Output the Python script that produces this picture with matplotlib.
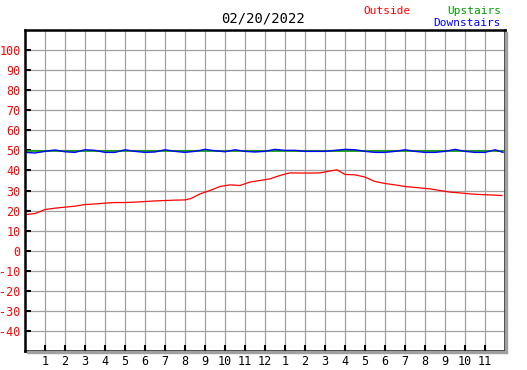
import numpy as np
import matplotlib
matplotlib.use('Agg')
import matplotlib.pyplot as plt
from matplotlib.patches import Rectangle

# hours since midnight
out_hours = [0, 0.5, 0.75, 1.0, 1.5, 2.0, 2.5, 3.0, 3.5, 4.0, 4.5, 5.0, 5.5, 6.0,
             6.5, 7.0, 7.5, 8.0, 8.3, 8.75, 9.25, 9.75, 10.25, 10.75, 11.25,
             11.75, 12.25, 12.75, 13.25, 13.75, 14.25, 14.75, 15.25, 15.6, 16.0,
             16.5, 17.0, 17.5, 18.0, 18.5, 19.0, 19.75, 20.25, 20.75, 21.25,
             21.75, 22.25, 22.75, 23.25, 23.85]
outside = [18, 18.5, 19.5, 20.5, 21.2, 21.7, 22.2, 23, 23.3, 23.7, 24, 24, 24.2,
           24.5, 24.8, 25, 25.2, 25.3, 26, 28.3, 30, 32, 32.8, 32.5, 34.2, 35,
           35.8, 37.5, 38.8, 38.7, 38.7, 38.8, 39.7, 40.3, 38, 37.8, 36.7, 34.5,
           33.5, 32.8, 32, 31.3, 30.8, 30, 29.2, 28.8, 28.3, 28, 27.8, 27.5]

in_hours = [0, 0.5, 1.0, 1.5, 2.0, 2.5, 3.0, 3.5, 4.0, 4.5, 5.0, 5.5, 6.0, 6.5,
            7.0, 7.5, 8.0, 8.5, 9.0, 9.5, 10, 10.5, 11, 11.5, 12, 12.5, 13,
            13.5, 14, 14.5, 15, 15.5, 16, 16.5, 17, 17.5, 18, 18.5, 19, 19.5,
            20, 20.5, 21, 21.5, 22, 22.5, 23, 23.5, 23.9]
downstairs = [49, 48.7, 49.5, 50.2, 49.3, 49, 50.3, 50, 49, 49, 50.3, 49.5, 49,
              49.2, 50.3, 49.5, 49, 49.5, 50.5, 49.8, 49.3, 50.3, 49.5, 49.2,
              49.5, 50.5, 50, 50, 49.5, 49.5, 49.5, 50, 50.5, 50.3, 49.5, 49, 49,
              49.5, 50.3, 49.5, 49, 49, 49.5, 50.5, 49.5, 49, 49, 50.3, 49]
upstairs = [49.8] * len(in_hours)

hour_labels = [str(h) for h in list(range(1, 13)) + list(range(1, 12))]

mono = 'DejaVu Sans Mono'

fig = plt.figure(figsize=(5.27, 3.70), dpi=100)
ax = fig.add_axes([25 / 527, (370 - 351) / 370, 480 / 527, 321 / 370])

ax.plot(out_hours, outside, color='#ff0000', lw=0.9)
ax.plot(in_hours, upstairs, color='#009900', lw=1.2)
ax.plot(in_hours, downstairs, color='#0000ff', lw=1.0)

ax.set_xlim(0, 24)
ax.set_ylim(-50, 110)
ax.set_xticks(np.arange(1, 24))
ax.set_xticklabels(hour_labels, fontsize=8.5, family=mono)
ax.set_yticks(np.arange(-40, 101, 10))
ax.set_yticklabels([str(v) for v in range(-40, 101, 10)], fontsize=8.5,
                   family=mono, color='#ff0000')
ax.grid(True, color='#a0a0a0', lw=0.9)
ax.tick_params(axis='both', direction='in', length=4, width=1.5, color='black',
               pad=3)
for s in ax.spines.values():
    s.set_linewidth(1.8)

# drop shadow on right and bottom
fig.patches.append(Rectangle((505 / 527, (370 - 353) / 370), 2 / 527, 321 / 370,
                             transform=fig.transFigure, color='#a0a0a0', zorder=0))
fig.patches.append(Rectangle((27 / 527, (370 - 353) / 370), 480 / 527, 2 / 370,
                             transform=fig.transFigure, color='#a0a0a0', zorder=0))

fig.text(263 / 527, 1 - 19 / 370, '02/20/2022', ha='center', va='center',
         fontsize=10, family=mono)
fig.text(411 / 527, 1 - 11 / 370, 'Outside', ha='right', va='center',
         fontsize=8, family=mono, color='#ff0000')
fig.text(501 / 527, 1 - 11 / 370, 'Upstairs', ha='right', va='center',
         fontsize=8, family=mono, color='#009900')
fig.text(501 / 527, 1 - 23 / 370, 'Downstairs', ha='right', va='center',
         fontsize=8, family=mono, color='#0000ff')

plt.savefig('out.png', dpi=100)
